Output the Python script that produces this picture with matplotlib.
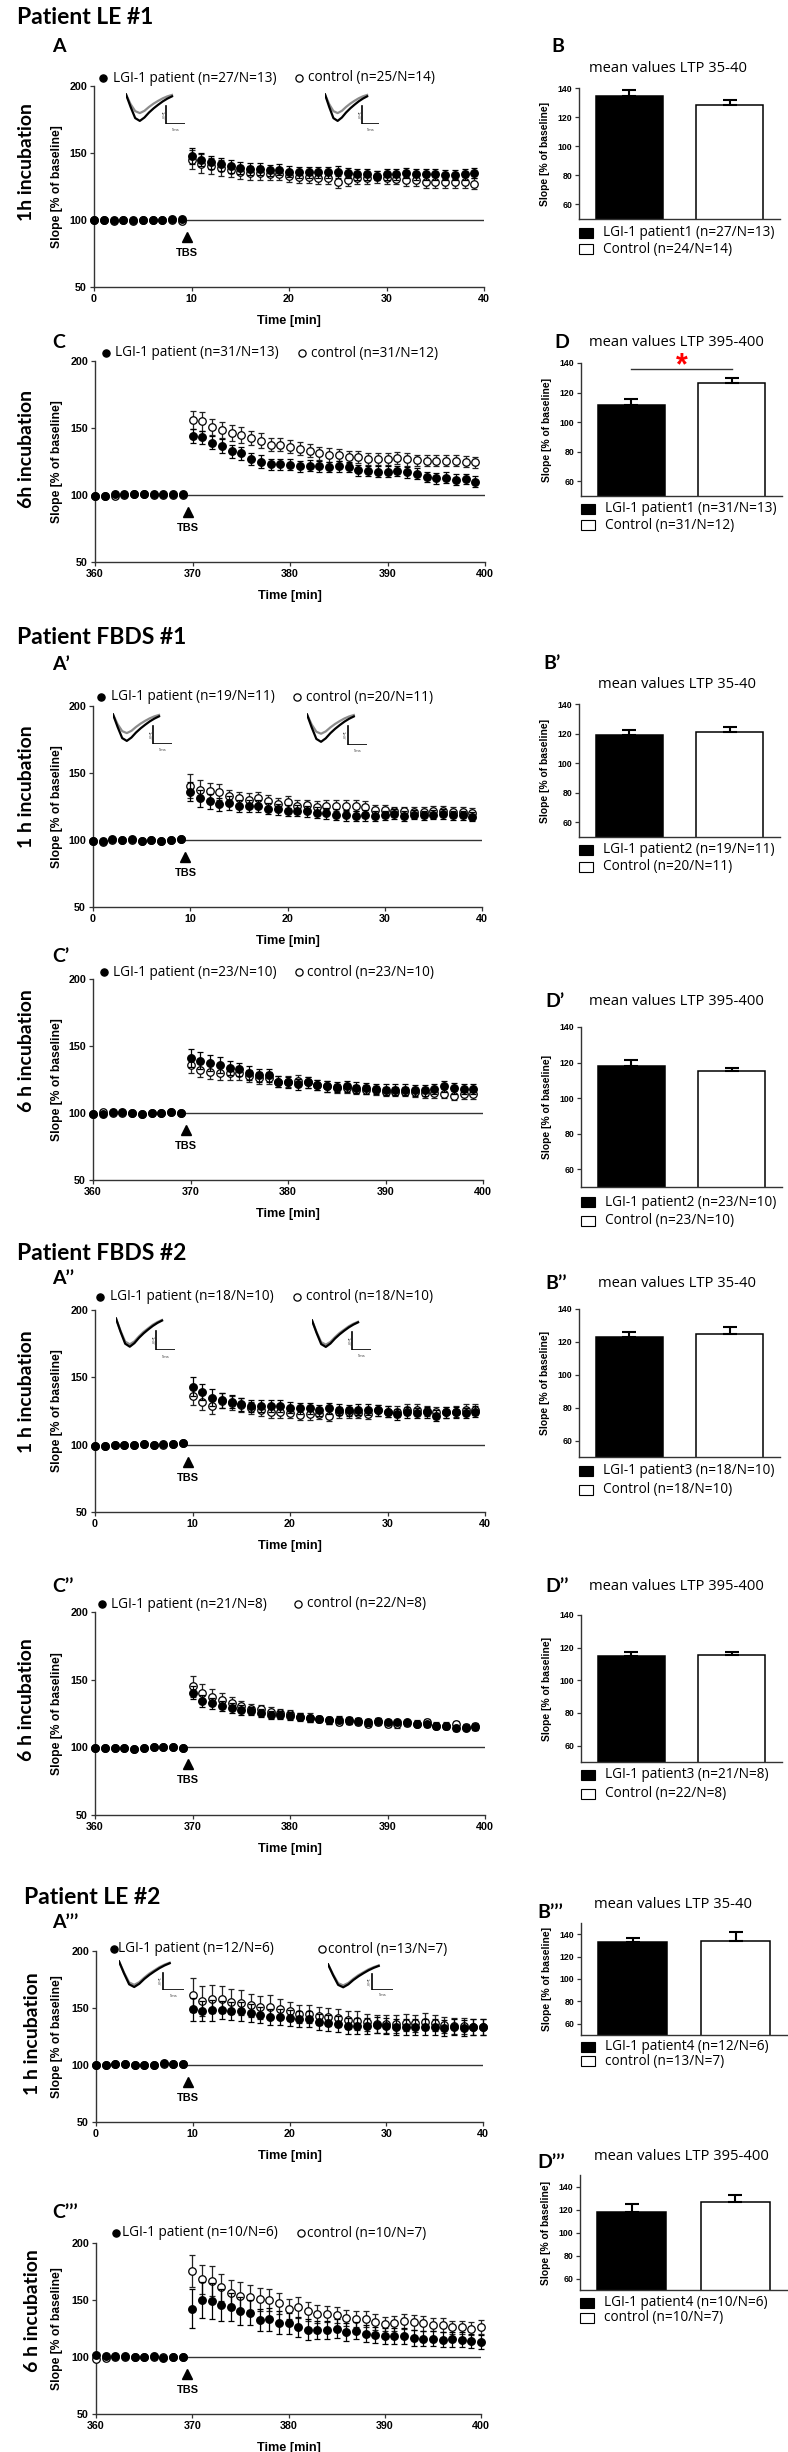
import numpy as np
import matplotlib
matplotlib.use("Agg")
import matplotlib.pyplot as plt
from matplotlib.lines import Line2D
from matplotlib.patches import Rectangle

plt.rcParams['font.family'] = ['Liberation Sans', 'DejaVu Sans']

W, H = 788, 2452

# ---------------- data ----------------
t_1h = np.arange(0, 40)
t_1h_41 = np.arange(0, 41)
t_6h = np.arange(360, 400)
t_6h_41 = np.arange(360, 401)

# Patient LE #1, 1h (A)
A_pat = [100, 100, 100, 100, 100, 100, 100, 100, 100.5, 101,
         148, 145, 143, 141.5, 140, 138.5, 138, 138, 137, 137.5,
         136, 135.5, 135.5, 135.5, 135.5, 136, 135, 134, 134, 133,
         134, 134, 135, 134, 134, 134, 133.5, 133.5, 134, 135]
A_pat_err = [1.5, 1.5, 1.5, 1.5, 1.5, 1.5, 1.5, 1.5, 1.5, 1.5,
             6, 5, 5, 5, 5, 4.5, 4.5, 4.5, 4, 4,
             4, 4, 4, 4, 4, 4.5, 4, 4, 4, 3.5,
             4, 4, 4, 4, 4, 4, 4, 4, 4, 4]
A_ctl = [100, 100, 99.5, 100, 99.5, 100, 100, 100, 100, 99.5,
         145, 142, 140, 139, 137, 135.5, 135, 135, 134, 134,
         133, 132, 132, 131, 131, 128.5, 130, 131, 131, 132,
         131, 130.5, 129.5, 129.5, 128, 128, 128, 128, 128, 127]
A_ctl_err = [1.5, 1.5, 1.5, 1.5, 1.5, 1.5, 1.5, 1.5, 1.5, 1.5,
             7, 7, 6, 6, 5, 5, 5, 5, 4.5, 4.5,
             4.5, 4.5, 4.5, 4.5, 4.5, 4.5, 4.5, 4.5, 4.5, 4.5,
             4.5, 4, 4, 4, 4, 4, 4, 4, 4, 4]

# Patient LE #1, 6h (C)
C_pat = [99, 99, 100.5, 100.5, 101, 101, 100.5, 100.5, 100.5, 100.5,
         144, 143, 139, 136.5, 132.5, 131, 127, 125, 123, 123,
         122.5, 121.5, 122, 121.5, 121, 121.5, 121, 118.5, 118, 117.5,
         117.5, 118, 117, 116, 113.5, 112.5, 113, 111.5, 112, 110]
C_pat_err = [1.5, 1.5, 1.5, 1.5, 1.5, 1.5, 1.5, 1.5, 1.5, 1.5,
             5, 5, 5, 5, 5, 5, 4.5, 4.5, 4, 4,
             4, 4, 4, 4, 4, 4, 4, 4, 4, 4,
             4, 4, 4, 4, 4, 4, 4, 4, 4, 4]
C_ctl = [99, 99, 99.5, 100, 100.5, 100.5, 100, 100, 100, 100,
         156, 155, 150.5, 148.5, 146.5, 144.5, 142.5, 140.5, 137.5, 137.5,
         136, 134.5, 133, 131, 130, 130, 128.5, 128.5, 127, 127,
         127, 127.5, 126.5, 126, 125.5, 125.5, 125.5, 125.5, 125, 124.5]
C_ctl_err = [1.5, 1.5, 1.5, 1.5, 1.5, 1.5, 1.5, 1.5, 1.5, 1.5,
             7, 7, 6, 6, 6, 6, 5.5, 5.5, 5, 5,
             5, 5, 5, 5, 5, 4.5, 4.5, 4.5, 4.5, 4.5,
             4.5, 4.5, 4.5, 4, 4, 4, 4, 4, 4, 4]

# Patient FBDS #1, 1h (A')
A2_pat = [99.5, 99.5, 100.5, 100, 100.5, 99.5, 100, 99.5, 100, 100.5,
          136, 131, 129, 126.5, 127.5, 125.5, 125.5, 125.5, 123.5, 123,
          122, 122, 121.5, 120.5, 120, 119, 118.5, 118, 118.5, 118,
          118.5, 119.5, 118, 119, 118.5, 119, 119.5, 118.5, 118.5, 117.5]
A2_pat_err = [1.5, 1.5, 1.5, 1.5, 1.5, 1.5, 1.5, 1.5, 1.5, 1.5,
              7, 6, 5.5, 5, 5, 4.5, 4.5, 4.5, 4, 4,
              4, 4, 4, 4, 4, 4, 4, 4, 4, 3.5,
              3.5, 3.5, 3.5, 3.5, 3.5, 3.5, 3.5, 3.5, 3.5, 3.5]
A2_ctl = [99.5, 98.5, 100, 100, 100, 99.5, 100, 99.5, 100, 101,
          140.5, 137.5, 136.5, 135.5, 132.5, 131, 130, 131, 129, 127,
          128.5, 125.5, 126, 125, 125.5, 125.5, 125.5, 125.5, 125, 122.5,
          122.5, 121.5, 121.5, 121, 121, 122, 122, 121, 121, 120.5]
A2_ctl_err = [1.5, 1.5, 1.5, 1.5, 1.5, 1.5, 1.5, 1.5, 1.5, 1.5,
              9, 7, 6, 6, 5, 5, 5, 5, 4.5, 4.5,
              4.5, 4, 4, 4, 4, 4, 4, 4, 4, 3.5,
              3.5, 3.5, 3.5, 3.5, 3.5, 3.5, 3.5, 3.5, 3.5, 3.5]

# Patient FBDS #1, 6h (C')
C2_pat = [99, 99, 100.5, 100.5, 100, 99.5, 100, 100, 101, 100,
          141, 139, 137, 136, 133.5, 132.5, 130, 128, 128, 123.5,
          123, 121.5, 123, 121, 120, 119.5, 120, 119, 118.5, 118,
          117.5, 117.5, 117.5, 117, 117, 118, 120, 118.5, 118, 118]
C2_pat_err = [1.5, 1.5, 1.5, 1.5, 1.5, 1.5, 1.5, 1.5, 1.5, 1.5,
              7, 6.5, 6, 6, 5, 5, 5, 4.5, 4.5, 4,
              4, 4, 4, 4, 4, 4, 4, 4, 4, 4,
              4, 4, 4, 4, 4, 4, 4, 4, 4, 4]
C2_ctl = [99, 100.5, 100, 100, 100, 99.5, 100, 100, 100.5, 100,
          135.5, 132, 130.5, 129.5, 130, 129.5, 127.5, 126, 126, 123.5,
          123.5, 124, 123, 121, 120, 118.5, 118.5, 117.5, 117.5, 117,
          116, 116, 116, 115.5, 115, 115, 114.5, 113, 114, 114]
C2_ctl_err = [1.5, 1.5, 1.5, 1.5, 1.5, 1.5, 1.5, 1.5, 1.5, 1.5,
              6, 5.5, 5, 5, 5, 5, 4.5, 4.5, 4.5, 4,
              4, 4, 4, 4, 4, 3.5, 3.5, 3.5, 3.5, 3.5,
              3.5, 3.5, 3.5, 3.5, 3.5, 3.5, 3.5, 3.5, 3.5, 3.5]

# Patient FBDS #2, 1h (A'')
A3_pat = [99, 99, 99.5, 99.5, 99.5, 100.5, 100, 100.5, 100.5, 101.5,
          143, 139, 135, 133, 132, 130, 129, 129, 128.5, 128.5,
          127.5, 127, 127, 125.5, 127, 126, 125.5, 126, 126, 125.5,
          124.5, 122.5, 124, 123.5, 124, 121.5, 124, 124, 123.5, 124.5]
A3_pat_err = [1.5, 1.5, 1.5, 1.5, 1.5, 1.5, 1.5, 1.5, 1.5, 1.5,
              7, 6, 6, 5.5, 5, 5, 4.5, 4.5, 4.5, 4.5,
              4, 4, 4, 4, 4, 4, 4, 4, 4, 4,
              4, 4, 4, 4, 4, 4, 4, 4, 4, 4]
A3_ctl = [99, 99, 99.5, 99.5, 99.5, 100.5, 100, 100, 100.5, 101,
          136.5, 132, 129, 132.5, 131, 129.5, 127.5, 125.5, 124.5, 124.5,
          123.5, 122, 122.5, 123, 121.5, 124, 124, 123.5, 123, 125.5,
          124.5, 124.5, 126, 126, 125, 124, 124, 124.5, 126, 126]
A3_ctl_err = [1.5, 1.5, 1.5, 1.5, 1.5, 1.5, 1.5, 1.5, 1.5, 1.5,
              7, 6.5, 6, 5.5, 5, 5, 4.5, 4.5, 4.5, 4.5,
              4, 4, 4, 4, 4, 4, 4, 4, 4, 4,
              4, 4, 4, 4, 4, 4, 4, 4, 4, 4]

# Patient FBDS #2, 6h (C'')
C3_pat = [99.5, 99.5, 99.5, 99.5, 99, 99.5, 100, 100.5, 100, 99.5,
          140.5, 134, 132.5, 130.5, 129, 127.5, 127, 125.5, 124, 124,
          123, 122.5, 121.5, 121, 120, 120.5, 120, 119.5, 118.5, 119.5,
          118.5, 118.5, 118.5, 117.5, 117, 116, 115.5, 114, 114.5, 115]
C3_pat_err = [1.5, 1.5, 1.5, 1.5, 1.5, 1.5, 1.5, 1.5, 1.5, 1.5,
              5, 4.5, 4, 4, 3.5, 3.5, 3, 3, 3, 3,
              3, 2.5, 2.5, 2.5, 2.5, 2.5, 2.5, 2.5, 2.5, 2,
              2, 2, 2, 2, 2, 2, 2, 2, 2, 2]
C3_ctl = [99.5, 99.5, 99.5, 99.5, 99, 99.5, 100, 100.5, 100, 99.5,
          145, 140.5, 137, 135, 133, 130.5, 128.5, 128, 126, 125,
          124.5, 122.5, 122, 121, 120, 119, 119.5, 119, 117.5, 119,
          117.5, 117, 118, 117.5, 118.5, 116, 116, 117, 115, 115.5]
C3_ctl_err = [1.5, 1.5, 1.5, 1.5, 1.5, 1.5, 1.5, 1.5, 1.5, 1.5,
              8, 6.5, 6, 5, 4.5, 4, 3.5, 3.5, 3.5, 3,
              3, 3, 3, 2.5, 2.5, 2.5, 2.5, 2.5, 2.5, 2.5,
              2.5, 2.5, 2.5, 2.5, 2.5, 2.5, 2.5, 2.5, 2.5, 2.5]

# Patient LE #2, 1h (A''')
A4_pat = [100, 100, 100.5, 101, 100, 100, 100, 101.5, 101, 101,
          149, 147.5, 148, 148, 147.5, 147, 145.5, 144, 142.5, 142,
          141, 140, 140, 138, 137, 136, 134.5, 134.5, 134.5, 135,
          134, 133.5, 133.5, 133, 133.5, 133.5, 132.5, 133, 132.5, 133, 133]
A4_pat_err = [1.5, 1.5, 1.5, 1.5, 1.5, 1.5, 1.5, 1.5, 1.5, 1.5,
              10, 9, 9, 8, 8, 8, 8, 7, 7, 7,
              7, 7, 7, 7, 7, 7, 7, 7, 7, 7,
              7, 7, 7, 7, 7, 7, 7, 7, 7, 7, 7]
A4_ctl = [100, 100, 100.5, 100.5, 100, 100, 100, 101, 101, 101,
          161.5, 156, 158, 157.5, 155.5, 154.5, 152.5, 150.5, 151, 149,
          147, 144.5, 144.5, 143, 142, 141, 139.5, 139, 137.5, 136,
          136, 136, 137, 136.5, 138, 137, 135, 134.5, 134, 133, 133.5]
A4_ctl_err = [1.5, 1.5, 1.5, 1.5, 1.5, 1.5, 1.5, 1.5, 1.5, 1.5,
              15, 13, 12, 12, 11, 11, 10, 10, 10, 9,
              8, 8, 8, 8, 8, 8, 8, 8, 7.5, 7.5,
              7.5, 7.5, 7.5, 7.5, 7.5, 7, 7, 7, 7, 7, 7]

# Patient LE #2, 6h (C''')
C4_pat = [101.5, 101, 101, 100.5, 100, 100, 100.5, 99.5, 100, 100,
          142.5, 150, 149, 146, 144, 140.5, 139, 132.5, 133, 130,
          129.5, 126.5, 124, 123.5, 124, 125, 122, 123, 120.5, 119,
          118.5, 118.5, 118.5, 117, 116, 116, 115, 115.5, 115, 114, 113]
C4_pat_err = [1.5, 1.5, 1.5, 1.5, 1.5, 1.5, 1.5, 1.5, 1.5, 1.5,
              17, 16, 16, 14, 12, 12, 11, 10, 10, 10,
              9.5, 9, 9, 8, 8, 8, 8, 7.5, 7.5, 7,
              7, 7, 7, 7, 6.5, 6.5, 6.5, 6.5, 6.5, 6.5, 6]
C4_ctl = [98.5, 99, 100, 100, 100, 100, 100, 100, 100, 100,
          175.5, 168, 166.5, 161, 156.5, 153.5, 152.5, 150.5, 150, 147,
          142, 143.5, 140, 138, 137.5, 136.5, 134.5, 133, 133.5, 130.5,
          129, 129.5, 131.5, 130.5, 129.5, 128.5, 128, 126, 126, 125, 126.5]
C4_ctl_err = [1.5, 1.5, 1.5, 1.5, 1.5, 1.5, 1.5, 1.5, 1.5, 1.5,
              14, 13, 13, 12, 11, 12, 11, 10, 10, 9,
              9, 9, 8, 8, 7, 7, 7, 7, 7, 7,
              6.5, 6.5, 6.5, 6.5, 6.5, 6, 6, 6, 6, 6, 6]

# bar panels: [patient, control]
B_vals, B_errs = [134.5, 128.5], [4, 3]
D_vals, D_errs = [111.5, 126.5], [4, 3.5]
B2_vals, B2_errs = [119, 121], [3.2, 3.5]
D2_vals, D2_errs = [118, 115], [3.5, 2]
B3_vals, B3_errs = [123, 125], [3, 4]
D3_vals, D3_errs = [115, 115.5], [2.5, 2]
B4_vals, B4_errs = [133, 133.5], [3.5, 8.5]
D4_vals, D4_errs = [118, 126.5], [7, 6.5]

# recorded fEPSP example traces (normalised)
trace_t = [0, 0.1, 0.2, 0.3, 0.4, 0.5, 0.6, 0.7, 0.8, 0.9, 1.0]
trace_after = [0.95, 0.5, 0.1, 0.0, 0.12, 0.3, 0.45, 0.58, 0.7, 0.8, 0.88]
trace_base_far = [0.95, 0.6, 0.35, 0.28, 0.36, 0.5, 0.62, 0.72, 0.81, 0.88, 0.93]
trace_base_near = [0.95, 0.53, 0.17, 0.08, 0.18, 0.35, 0.5, 0.62, 0.74, 0.83, 0.9]


fig = plt.figure(figsize=(W / 100, H / 100), dpi=100)
renderer = fig.canvas.get_renderer()

LATO = ['Lato', 'DejaVu Sans']
OPEN = ['Open Sans', 'DejaVu Sans']


def size_for(s, target, **kw):
    # font size that gives the string the pixel width seen in the reference
    t = fig.text(0, 0, s, fontsize=10, **kw)
    w = t.get_window_extent(renderer).width
    t.remove()
    return 10.0 * target / w


HEAD = size_for('Patient LE #1', 136, fontweight='bold', family=LATO)
ROW = size_for('1 h incubation', 123, fontweight='bold', family=LATO)
LETTER = size_for('A', 13.5, fontweight='bold', family=LATO)
LEG = size_for('LGI-1 patient (n=27/N=13)', 163, family=OPEN)
BTITLE = size_for('mean values LTP 395-400', 174, family=OPEN)
TICK = size_for('200', 17.7, fontweight='bold')
BTICK = size_for('140', 14.7, fontweight='bold')
YLAB = size_for('Slope [% of baseline]', 122, fontweight='bold')
BYLAB = size_for('Slope [% of baseline]', 103, fontweight='bold')
TIME = size_for('Time [min]', 64, fontweight='bold')
TBS = size_for('TBS', 22, fontweight='bold')


def box(l, t, r, b):
    return [l / W, 1 - b / H, (r - l) / W, (b - t) / H]


def ftext(x, y, s, **kw):
    return fig.text(x / W, 1 - y / H, s, **kw)


def big_text(x, y, s, size, **kw):
    return ftext(x, y, s, fontsize=size, fontweight='bold', family=LATO, **kw)


def unclip(container):
    container[0].set_clip_on(False)
    for c in container[1]:
        c.set_clip_on(False)
    for c in container[2]:
        c.set_clip_on(False)


def fig_marker(x, y, filled):
    fig.add_artist(Line2D([x / W], [1 - y / H], marker='o', ms=5.2,
                          mfc='black' if filled else 'white', mec='black', mew=0.9,
                          transform=fig.transFigure))


def line_panel(pos, t, pat, pat_err, ctl, ctl_err, xlim, pat_label, ctl_label, leg):
    l, top, r, b = pos
    ax = fig.add_axes(box(l, top, r, b))
    ax.hlines(100, t[9], xlim[1], color='#333333', lw=1.0, zorder=1)
    e1 = ax.errorbar(t, ctl, yerr=ctl_err, fmt='o', ms=5.4, mfc='white', mec='black', mew=0.9,
                     ecolor='#222222', elinewidth=0.9, capsize=2, capthick=0.9, zorder=3)
    e2 = ax.errorbar(t, pat, yerr=pat_err, fmt='o', ms=5.4, color='black',
                     ecolor='black', elinewidth=0.9, capsize=2, capthick=0.9, zorder=4)
    unclip(e1)
    unclip(e2)
    ax.set_xlim(*xlim)
    ax.set_ylim(50, 200)
    ax.set_xticks(np.arange(xlim[0], xlim[1] + 1, 10))
    ax.set_yticks([50, 100, 150, 200])
    for s in ['top', 'right']:
        ax.spines[s].set_visible(False)
    for s in ['left', 'bottom']:
        ax.spines[s].set_color('#333333')
        ax.spines[s].set_linewidth(1.0)
    ax.tick_params(direction='out', length=3, width=0.9, color='#333333', pad=2,
                   labelsize=TICK)
    for lab in ax.get_xticklabels() + ax.get_yticklabels():
        lab.set_fontweight('bold')
    # TBS arrow
    ppu = (b - top) / 150.0
    tx = t[9] + 0.5
    ax.plot([tx], [100 - 17 / ppu], marker='^', ms=7.5, color='black', clip_on=False)
    ax.text(tx, 100 - 33 / ppu, 'TBS', ha='center', va='center', fontsize=TBS, fontweight='bold')
    # axis labels
    ftext(57, (top + b) / 2, 'Slope [% of baseline]', rotation=90, ha='center', va='center',
          fontsize=YLAB, fontweight='bold')
    ftext((l + r) / 2, b + 34, 'Time [min]', ha='center', va='center', fontsize=TIME,
          fontweight='bold')
    # legend text
    (px1, tx1, px2, tx2, ly) = leg
    fig_marker(px1, ly, True)
    ftext(tx1, ly, pat_label, ha='left', va='center', fontsize=LEG, family=OPEN)
    fig_marker(px2, ly, False)
    ftext(tx2, ly, ctl_label, ha='left', va='center', fontsize=LEG, family=OPEN)
    return ax


def trace_inset(pos, gray):
    ax = fig.add_axes(box(*pos))
    ax.set_xlim(0, 1)
    ax.set_ylim(0, 1)
    ax.axis('off')
    xs = [v * 0.78 for v in trace_t]
    ys_g = [0.1 + 0.9 * v for v in gray]
    ys_b = [0.1 + 0.9 * v for v in trace_after]
    ax.plot(xs, ys_g, color='#8c8c8c', lw=1.6)
    ax.plot(xs, ys_b, color='black', lw=1.6)
    ax.plot([0.68, 0.68, 1.0], [0.58, 0.0, 0.0], color='black', lw=1.2)
    ax.text(0.6, 0.3, '1mV', rotation=-90, fontsize=3, ha='center', va='center', color='#444444')
    ax.text(0.84, -0.2, '5ms', fontsize=3, ha='center', va='center', color='#444444')


def bar_panel(pos, ymax, vals, errs, title, title_xy, letter, letter_xy, labels, leg_ys, star=False):
    l, top, r, b = pos
    ax = fig.add_axes(box(l, top, r, b))
    ax.bar([0, 1], vals, width=0.67, color=['black', 'white'], edgecolor='black', lw=1.1, zorder=2)
    ax.errorbar([0, 1], vals, yerr=[[0, 0], errs], fmt='none', ecolor='black', elinewidth=1.5,
                capsize=5, capthick=1.5, zorder=3)
    ax.set_xlim(-0.5, 1.5)
    ax.set_ylim(50, ymax)
    ax.set_yticks([60, 80, 100, 120, 140])
    ax.set_xticks([])
    for s in ['top', 'right']:
        ax.spines[s].set_visible(False)
    for s in ['left', 'bottom']:
        ax.spines[s].set_color('#333333')
        ax.spines[s].set_linewidth(1.0)
    ax.tick_params(direction='out', length=3, width=0.9, color='#333333', pad=2, labelsize=BTICK)
    for lab in ax.get_yticklabels():
        lab.set_fontweight('bold')
    ftext(l - 34, (top + b) / 2, 'Slope [% of baseline]', rotation=90, ha='center', va='center',
          fontsize=BYLAB, fontweight='bold')
    ftext(title_xy[0], title_xy[1], title, ha='center', va='center', fontsize=BTITLE, family=OPEN)
    big_text(letter_xy[0], letter_xy[1], letter, LETTER, ha='left', va='center')
    for lab, ly, fc in zip(labels, leg_ys, ['black', 'white']):
        fig.add_artist(Rectangle((l / W, 1 - (ly + 5) / H), 14 / W, 10 / H, facecolor=fc,
                                 edgecolor='black', lw=0.8, transform=fig.transFigure))
        ftext(l + 24, ly, lab, ha='left', va='center', fontsize=LEG, family=OPEN)
    if star:
        ax.plot([0, 1], [136, 136], color='#333333', lw=1.0, clip_on=False)
        ax.text(0.5, 137.5, '*', color='red', fontsize=22, fontweight='bold', ha='center',
                va='center', clip_on=False)
    return ax


# ---------------- Patient LE #1 ----------------
big_text(17, 18, 'Patient LE #1', HEAD, ha='left', va='center')
big_text(52, 47, 'A', LETTER, ha='left', va='center')
big_text(27, 162, '1h incubation', ROW, rotation=90, ha='center', va='center')
line_panel((94, 86, 484, 287), t_1h, A_pat, A_pat_err, A_ctl, A_ctl_err, (0, 40),
           'LGI-1 patient (n=27/N=13)', 'control (n=25/N=14)', (103, 113, 299, 308, 78))
trace_inset((126, 93, 185, 124), trace_base_far)
trace_inset((325, 93, 379, 124), trace_base_far)
bar_panel((579, 88, 780, 219), 140, B_vals, B_errs, 'mean values LTP 35-40', (668, 68),
          'B', (551, 47), ['LGI-1 patient1 (n=27/N=13)', 'Control (n=24/N=14)'], [233, 249])

big_text(52, 343, 'C', LETTER, ha='left', va='center')
big_text(27, 449, '6h incubation', ROW, rotation=90, ha='center', va='center')
line_panel((95, 361, 485, 562), t_6h, C_pat, C_pat_err, C_ctl, C_ctl_err, (360, 400),
           'LGI-1 patient (n=31/N=13)', 'control (n=31/N=12)', (106, 115, 302, 311, 353))
bar_panel((581, 363, 782, 496), 140, D_vals, D_errs, 'mean values LTP 395-400', (676, 343),
          'D', (554, 343), ['LGI-1 patient1 (n=31/N=13)', 'Control (n=31/N=12)'], [509, 525],
          star=True)

# ---------------- Patient FBDS #1 ----------------
big_text(17, 637, 'Patient FBDS #1', HEAD, ha='left', va='center')
big_text(52, 665, 'A\u2019', LETTER, ha='left', va='center')
big_text(27, 787, '1 h incubation', ROW, rotation=90, ha='center', va='center')
line_panel((93, 706, 482, 907), t_1h, A2_pat, A2_pat_err, A2_ctl, A2_ctl_err, (0, 40),
           'LGI-1 patient (n=19/N=11)', 'control (n=20/N=11)', (101, 111, 297, 306, 697))
trace_inset((113, 713, 172, 744), trace_base_far)
trace_inset((307, 713, 367, 745), trace_base_far)
bar_panel((579, 704, 780, 837), 140, B2_vals, B2_errs, 'mean values LTP 35-40', (677, 685),
          'B\u2019', (543, 663), ['LGI-1 patient2 (n=19/N=11)', 'Control (n=20/N=11)'], [850, 867])

big_text(52, 957, 'C\u2019', LETTER, ha='left', va='center')
big_text(27, 1051, '6 h incubation', ROW, rotation=90, ha='center', va='center')
line_panel((93, 979, 483, 1180), t_6h, C2_pat, C2_pat_err, C2_ctl, C2_ctl_err, (360, 400),
           'LGI-1 patient (n=23/N=10)', 'control (n=23/N=10)', (104, 113, 299, 307, 972))
bar_panel((581, 1027, 782, 1187), 140, D2_vals, D2_errs, 'mean values LTP 395-400', (676, 1002),
          'D\u2019', (545, 1002), ['LGI-1 patient2 (n=23/N=10)', 'Control (n=23/N=10)'],
          [1202, 1221])

# ---------------- Patient FBDS #2 ----------------
big_text(17, 1253, 'Patient FBDS #2', HEAD, ha='left', va='center')
big_text(52, 1279, 'A\u2019\u2019', LETTER, ha='left', va='center')
big_text(27, 1392, '1 h incubation', ROW, rotation=90, ha='center', va='center')
line_panel((95, 1310, 485, 1512), t_1h, A3_pat, A3_pat_err, A3_ctl, A3_ctl_err, (0, 40),
           'LGI-1 patient (n=18/N=10)', 'control (n=18/N=10)', (100, 110, 297, 306, 1297))
trace_inset((116, 1317, 175, 1350), trace_base_near)
trace_inset((312, 1319, 371, 1350), trace_base_near)
bar_panel((579, 1309, 780, 1457), 140, B3_vals, B3_errs, 'mean values LTP 35-40', (677, 1283),
          'B\u2019\u2019', (545, 1283), ['LGI-1 patient3 (n=18/N=10)', 'Control (n=18/N=10)'],
          [1471, 1490])

big_text(52, 1587, 'C\u2019\u2019', LETTER, ha='left', va='center')
big_text(27, 1700, '6 h incubation', ROW, rotation=90, ha='center', va='center')
line_panel((95, 1612, 485, 1815), t_6h, C3_pat, C3_pat_err, C3_ctl, C3_ctl_err, (360, 400),
           'LGI-1 patient (n=21/N=8)', 'control (n=22/N=8)', (102, 111, 298, 307, 1604))
bar_panel((581, 1615, 782, 1762), 140, D3_vals, D3_errs, 'mean values LTP 395-400', (676, 1587),
          'D\u2019\u2019', (545, 1587), ['LGI-1 patient3 (n=21/N=8)', 'Control (n=22/N=8)'],
          [1775, 1794])

# ---------------- Patient LE #2 ----------------
big_text(24, 1898, 'Patient LE #2', HEAD, ha='left', va='center')
big_text(52, 1922, 'A\u2019\u2019\u2019', LETTER, ha='left', va='center')
big_text(33, 2034, '1 h incubation', ROW, rotation=90, ha='center', va='center')
line_panel((96, 1951, 483, 2122), t_1h_41, A4_pat, A4_pat_err, A4_ctl, A4_ctl_err, (0, 40),
           'LGI-1 patient (n=12/N=6)', 'control (n=13/N=7)', (114, 118, 322, 328, 1949))
trace_inset((119, 1960, 184, 1990), trace_base_near)
trace_inset((328, 1963, 393, 1990), trace_base_near)
bar_panel((581, 1923, 787, 2035), 150, B4_vals, B4_errs, 'mean values LTP 35-40', (673, 1905),
          'B\u2019\u2019\u2019', (537, 1913), ['LGI-1 patient4 (n=12/N=6)', 'control (n=13/N=7)'],
          [2047, 2061])

big_text(52, 2212, 'C\u2019\u2019\u2019', LETTER, ha='left', va='center')
big_text(33, 2311, '6 h incubation', ROW, rotation=90, ha='center', va='center')
line_panel((96, 2243, 481, 2414), t_6h_41, C4_pat, C4_pat_err, C4_ctl, C4_ctl_err, (360, 400),
           'LGI-1 patient (n=10/N=6)', 'control (n=10/N=7)', (116, 122, 301, 307, 2233))
bar_panel((580, 2175, 787, 2290), 150, D4_vals, D4_errs, 'mean values LTP 395-400', (681, 2157),
          'D\u2019\u2019\u2019', (537, 2163), ['LGI-1 patient4 (n=10/N=6)', 'control (n=10/N=7)'],
          [2303, 2318])

fig.savefig('out.png', dpi=100)
